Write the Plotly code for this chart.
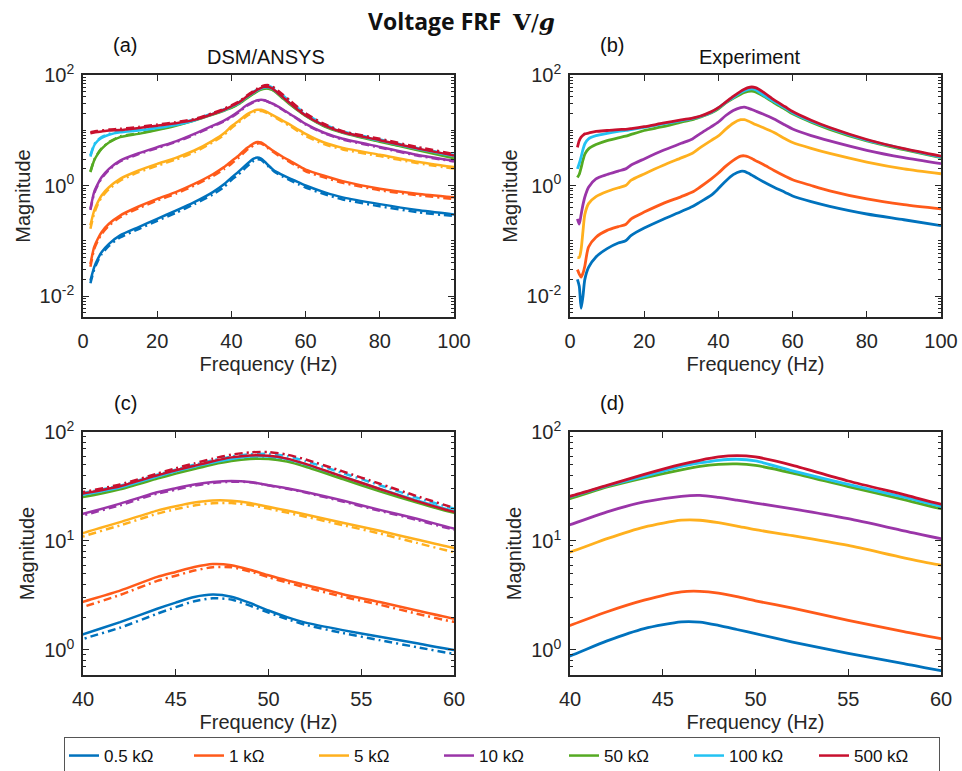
import plotly.graph_objects as go

# ---------------- data ----------------
labels = ['0.5 kΩ', '1 kΩ', '5 kΩ', '10 kΩ', '50 kΩ', '100 kΩ', '500 kΩ']
colors = ['#0072BD', '#FF5A1A', '#FFB01E', '#9A35A8', '#55AA22', '#22C2F2', '#C8102E']

freq_model = [2, 3, 4, 5, 7, 10, 15, 20, 25, 30, 35, 38, 40, 42, 44, 45, 46, 47, 48, 49,
              50, 51, 52, 54, 56, 58, 60, 65, 70, 80, 90, 100]

dsm_05k = [0.019, 0.033, 0.047, 0.062, 0.088, 0.125, 0.177, 0.25, 0.35, 0.50, 0.76, 1.05, 1.39, 1.8, 2.39, 2.72, 3.06, 3.22, 3.08, 2.7,
           2.3, 2.0, 1.78, 1.52, 1.32, 1.15, 1.0, 0.76, 0.61, 0.46, 0.36, 0.30]
dsm_1k = [0.038, 0.077, 0.109, 0.143, 0.203, 0.287, 0.417, 0.574, 0.76, 1.07, 1.6, 2.15, 2.76, 3.5, 4.68, 5.2, 5.77, 6.15, 6.0, 5.45,
          4.85, 4.35, 3.95, 3.25, 2.75, 2.3, 1.94, 1.5, 1.2, 0.87, 0.71, 0.61]
dsm_5k = [0.19, 0.35, 0.50, 0.66, 0.93, 1.32, 1.87, 2.46, 3.16, 4.3, 6.5, 8.8, 11.8, 14.9, 19.0, 20.8, 22.5, 23.5, 23.4, 22.3,
          20.6, 19.0, 17.5, 14.7, 12.4, 10.3, 8.6, 6.0, 4.8, 3.6, 2.7, 2.15]
dsm_10k = [0.38, 0.76, 1.07, 1.41, 2.0, 2.83, 3.84, 4.93, 6.3, 8.6, 12.1, 15.0, 17.8, 22.0, 28.0, 30.5, 33.0, 34.8, 35.5, 34.8,
           32.5, 30.5, 28.2, 23.5, 19.3, 16.0, 13.0, 9.0, 7.0, 5.0, 3.6, 2.8]
dsm_50k = [1.74, 2.83, 3.73, 4.6, 6.0, 7.5, 8.6, 10.1, 12.1, 15.0, 19.2, 22.5, 25.3, 29.8, 37.3, 41.5, 45.8, 50.4, 54.2, 56.5,
           56.5, 53.5, 48.0, 37.0, 28.5, 22.5, 18.1, 11.8, 9.0, 6.2, 4.4, 3.1]
dsm_100k = [3.34, 5.3, 6.5, 7.3, 8.3, 9.2, 9.9, 11.0, 12.5, 15.0, 19.7, 23.0, 26.6, 31.0, 39.0, 43.5, 48.0, 52.5, 56.5, 59.5,
            59.5, 56.5, 50.5, 39.0, 30.0, 23.5, 18.8, 12.2, 9.2, 6.5, 4.6, 3.4]
dsm_500k = [8.8, 9.1, 9.3, 9.5, 9.9, 10.1, 11.0, 12.1, 13.4, 15.4, 19.7, 23.5, 27.2, 31.8, 40.0, 44.5, 49.0, 54.0, 58.5, 61.0,
            60.5, 57.0, 51.0, 39.0, 30.0, 23.2, 18.5, 12.2, 9.2, 6.6, 4.7, 3.5]

ansys_05k = [0.017, 0.030, 0.043, 0.057, 0.081, 0.115, 0.163, 0.23, 0.32, 0.46, 0.69, 0.94, 1.26, 1.6, 2.15, 2.47, 2.8, 2.98, 2.9, 2.55,
             2.2, 1.92, 1.7, 1.43, 1.23, 1.06, 0.92, 0.7, 0.56, 0.42, 0.33, 0.28]
ansys_1k = [0.034, 0.07, 0.1, 0.132, 0.188, 0.267, 0.39, 0.535, 0.71, 1.0, 1.48, 1.98, 2.48, 3.2, 4.3, 4.8, 5.35, 5.75, 5.75, 5.25,
            4.65, 4.15, 3.75, 3.08, 2.6, 2.15, 1.81, 1.4, 1.12, 0.82, 0.67, 0.57]
ansys_5k = [0.165, 0.31, 0.46, 0.61, 0.86, 1.22, 1.74, 2.28, 2.95, 4.0, 6.1, 8.2, 11.0, 13.9, 17.8, 19.6, 21.2, 22.2, 22.3, 21.4,
            19.8, 18.2, 16.7, 14.0, 11.7, 9.6, 7.9, 5.6, 4.5, 3.4, 2.55, 2.02]
ansys_10k = [0.36, 0.72, 1.02, 1.35, 1.92, 2.72, 3.7, 4.75, 6.1, 8.3, 11.7, 14.5, 17.2, 21.3, 27.2, 29.6, 32.2, 34.0, 35.0, 34.6,
             32.4, 30.2, 27.8, 23.0, 18.9, 15.6, 12.7, 8.8, 6.8, 4.85, 3.5, 2.72]
ansys_50k = [1.8, 2.9, 3.8, 4.7, 6.1, 7.7, 8.8, 10.3, 12.3, 15.3, 19.6, 23.0, 25.8, 30.4, 38.0, 42.3, 46.7, 51.4, 55.3, 57.6,
             57.6, 54.6, 49.0, 37.8, 29.1, 23.0, 18.5, 12.0, 9.2, 6.3, 4.5, 3.35]
ansys_100k = [3.5, 5.5, 6.7, 7.5, 8.6, 9.5, 10.3, 11.5, 13.0, 15.6, 20.3, 23.8, 27.5, 32.2, 40.5, 45.2, 50.0, 55.0, 59.5, 62.5,
              63.0, 60.0, 54.0, 42.0, 32.5, 25.0, 19.8, 12.8, 9.5, 6.8, 4.8, 3.6]
ansys_500k = [9.2, 9.5, 9.7, 9.9, 10.3, 10.6, 11.5, 12.7, 14.0, 16.0, 20.5, 24.5, 28.1, 33.0, 41.5, 46.5, 51.5, 57.0, 62.0, 65.0,
              65.5, 62.0, 56.0, 43.5, 33.5, 25.8, 20.2, 13.0, 9.6, 7.0, 5.0, 3.7]

freq_exp = [2, 2.5, 3, 3.5, 4, 5, 7, 10, 13, 15, 16.5, 20, 25, 30, 33, 35, 38, 40, 42, 44, 46, 47, 48, 49,
            50, 52, 55, 58, 60, 65, 70, 80, 90, 100]

exp_05k = [0.02, 0.015, 0.006, 0.01, 0.02, 0.033, 0.051, 0.072, 0.091, 0.10, 0.125, 0.17, 0.243, 0.339, 0.417, 0.50, 0.66, 0.88,
           1.21, 1.57, 1.81, 1.80, 1.68, 1.54, 1.41, 1.18, 0.93, 0.75, 0.645, 0.51, 0.42, 0.305, 0.24, 0.187]
exp_1k = [0.03, 0.025, 0.022, 0.026, 0.035, 0.077, 0.116, 0.154, 0.18, 0.197, 0.25, 0.33, 0.47, 0.63, 0.76, 0.93, 1.3, 1.68,
          2.24, 2.86, 3.41, 3.45, 3.32, 3.08, 2.82, 2.42, 1.87, 1.47, 1.27, 1.0, 0.8, 0.57, 0.45, 0.377]
exp_5k = [0.05, 0.05, 0.07, 0.15, 0.3, 0.47, 0.63, 0.78, 0.91, 1.0, 1.25, 1.62, 2.3, 3.16, 3.84, 4.8, 6.5, 7.9,
          10.5, 13.4, 15.5, 15.5, 14.7, 13.7, 12.7, 11.2, 9.1, 7.0, 6.0, 4.7, 3.8, 2.66, 2.0, 1.63]
exp_10k = [0.25, 0.2, 0.3, 0.45, 0.62, 0.93, 1.32, 1.58, 1.82, 2.0, 2.35, 3.03, 4.29, 5.8, 6.97, 8.6, 11.5, 14.1,
           18.5, 22.8, 25.7, 26.2, 25.1, 23.7, 22.3, 19.7, 16.0, 12.4, 10.5, 8.0, 6.4, 4.33, 3.18, 2.48]
exp_50k = [1.4, 1.6, 2.1, 2.9, 3.7, 4.6, 5.5, 6.5, 7.3, 7.8, 8.4, 9.9, 11.6, 14.0, 15.5, 17.2, 20.5, 24.5,
           31.3, 38.0, 45.0, 48.4, 50.5, 51.0, 49.4, 42.0, 31.5, 24.0, 19.8, 14.0, 10.4, 6.4, 4.45, 3.18]
exp_100k = [2.0, 2.5, 3.3, 4.5, 5.7, 7.0, 8.0, 8.8, 9.5, 9.9, 10.3, 11.3, 13.0, 15.0, 16.3, 17.7, 21.0, 25.4,
            32.0, 39.2, 48.4, 52.0, 55.0, 56.2, 54.2, 44.0, 33.0, 25.3, 20.8, 14.6, 10.9, 6.6, 4.6, 3.27]
exp_500k = [4.9, 6.5, 7.5, 8.1, 8.6, 8.9, 9.5, 9.9, 10.3, 10.4, 10.7, 11.6, 13.4, 15.4, 16.6, 17.9, 21.5, 25.7,
            32.4, 40.9, 50.5, 55.0, 59.0, 60.7, 59.0, 49.5, 35.5, 26.6, 21.8, 15.2, 11.2, 6.8, 4.64, 3.4]

dsm = [dsm_05k, dsm_1k, dsm_5k, dsm_10k, dsm_50k, dsm_100k, dsm_500k]
ansys = [ansys_05k, ansys_1k, ansys_5k, ansys_10k, ansys_50k, ansys_100k, ansys_500k]
expt = [exp_05k, exp_1k, exp_5k, exp_10k, exp_50k, exp_100k, exp_500k]

top_xticks = [0, 20, 40, 60, 80, 100]
bot_xticks = [40, 45, 50, 55, 60]

# ---------------- figure ----------------
W, H = 962, 771
FONT = 'Liberation Sans, Arial, sans-serif'
AX = '#262626'
fig = go.Figure()

for i in range(7):
    for xa, ya, show in (('x', 'y', True), ('x3', 'y3', False)):
        fig.add_trace(go.Scatter(x=freq_model, y=dsm[i], mode='lines', name=labels[i],
                                 legendgroup=labels[i], showlegend=show, xaxis=xa, yaxis=ya,
                                 line=dict(color=colors[i], width=2.5, shape='spline', smoothing=0.6)))
        fig.add_trace(go.Scatter(x=freq_model, y=ansys[i], mode='lines', name=labels[i] + ' ANSYS',
                                 legendgroup=labels[i], showlegend=False, xaxis=xa, yaxis=ya,
                                 line=dict(color=colors[i], width=2.5, dash='8px,4px,2px,4px',
                                           shape='spline', smoothing=0.6)))
    for xa, ya in (('x2', 'y2'), ('x4', 'y4')):
        fig.add_trace(go.Scatter(x=freq_exp, y=expt[i], mode='lines', name=labels[i] + ' exp',
                                 legendgroup=labels[i], showlegend=False, xaxis=xa, yaxis=ya,
                                 line=dict(color=colors[i], width=2.8, shape='spline', smoothing=0.7)))


def px_x(v):
    return v / W


def px_y(v):
    return 1 - v / H


common_x = dict(showline=True, linecolor=AX, linewidth=1.5, mirror='allticks', ticks='inside',
                ticklen=6, tickwidth=1.2, tickcolor=AX, showgrid=False, zeroline=False,
                automargin=False,
                tickfont=dict(family=FONT, size=20, color=AX), ticklabelstandoff=5,
                title=dict(text='Frequency (Hz)', font=dict(family=FONT, size=20, color=AX), standoff=6))
common_y = dict(type='log', showline=True, linecolor=AX, linewidth=1.5, mirror='allticks', ticks='inside',
                ticklen=6, tickwidth=1.2, tickcolor=AX, showgrid=False, zeroline=False,
                automargin=False,
                tickfont=dict(family=FONT, size=20, color=AX), ticklabelstandoff=3,
                title=dict(text='Magnitude', font=dict(family=FONT, size=20, color=AX), standoff=4))

minor_vals = [m * 10.0 ** e for e in range(-3, 3) for m in range(1, 10)]
minor = dict(ticks='inside', ticklen=3, tickwidth=1, tickcolor=AX, showgrid=False,
             tickmode='array', tickvals=minor_vals)

left_dom = [px_x(83), px_x(454)]
right_dom = [px_x(570), px_x(941)]
top_dom = [px_y(317), px_y(75)]
bot_dom = [px_y(675), px_y(432)]

top_y = dict(range=[-2.38, 2], tickmode='array', tickvals=[0.01, 1, 100],
             ticktext=['10<sup>-2</sup>', '10<sup>0</sup>', '10<sup>2</sup>'], minor=minor)
bot_y = dict(range=[-0.23, 2], tickmode='array', tickvals=[1, 10, 100],
             ticktext=['10<sup>0</sup>', '10<sup>1</sup>', '10<sup>2</sup>'], minor=minor)

fig.update_layout(
    width=W, height=H, autosize=False,
    margin=dict(l=0, r=0, t=0, b=0, pad=0, autoexpand=False),
    paper_bgcolor='white', plot_bgcolor='white',
    font=dict(family=FONT, color=AX),
    xaxis=dict(common_x, domain=left_dom, anchor='y', range=[0, 100], tickvals=top_xticks),
    yaxis=dict(common_y, domain=top_dom, anchor='x', **top_y),
    xaxis2=dict(common_x, domain=right_dom, anchor='y2', range=[0, 100], tickvals=top_xticks),
    yaxis2=dict(common_y, domain=top_dom, anchor='x2', **top_y),
    xaxis3=dict(common_x, domain=left_dom, anchor='y3', range=[40, 60], tickvals=bot_xticks),
    yaxis3=dict(common_y, domain=bot_dom, anchor='x3', **bot_y),
    xaxis4=dict(common_x, domain=right_dom, anchor='y4', range=[40, 60], tickvals=bot_xticks),
    yaxis4=dict(common_y, domain=bot_dom, anchor='x4', **bot_y),
    showlegend=True,
    legend=dict(orientation='h', x=px_x(64), y=px_y(737), xanchor='left', yanchor='top',
                bgcolor='white', bordercolor='#555555', borderwidth=1,
                font=dict(family=FONT, size=17, color='#111111'),
                entrywidth=80, entrywidthmode='pixels', itemwidth=30, tracegroupgap=0),
)

title_txt = ("<b>Voltage FRF</b>  <span style='font-family:DejaVu Serif'><b>V</b>/<b><i>g</i></b></span>")
annotations = [
    dict(text=title_txt, x=px_x(461), y=px_y(21), font=dict(family='Open Sans, Lato, sans-serif', size=23, color='#111')),
    dict(text='(a)', x=px_x(125), y=px_y(45), font=dict(family=FONT, size=20, color='#111')),
    dict(text='DSM/ANSYS', x=px_x(266), y=px_y(57), font=dict(family=FONT, size=20, color='#111')),
    dict(text='(b)', x=px_x(612), y=px_y(45), font=dict(family=FONT, size=20, color='#111')),
    dict(text='Experiment', x=px_x(750), y=px_y(57), font=dict(family=FONT, size=20, color='#111')),
    dict(text='(c)', x=px_x(125), y=px_y(403), font=dict(family=FONT, size=20, color='#111')),
    dict(text='(d)', x=px_x(612), y=px_y(403), font=dict(family=FONT, size=20, color='#111')),
]
for a in annotations:
    a.update(xref='paper', yref='paper', showarrow=False, xanchor='center', yanchor='middle')
fig.update_layout(annotations=annotations)

fig.write_html('out.html')
